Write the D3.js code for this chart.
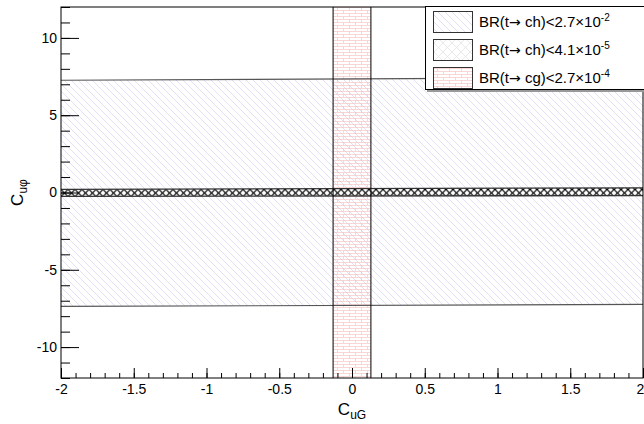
<!DOCTYPE html>
<html>
<head>
<meta charset="utf-8">
<script src="https://cdn.jsdelivr.net/npm/d3@7"></script>
<style>
  body { margin: 0; background: #fff; }
  svg { font-family: "Liberation Sans", Arial, Helvetica, sans-serif; }
</style>
</head>
<body>
<svg id="chart" width="644" height="424"></svg>
<script>

// axis ranges
var xDomain = [-2, 2];
var yDomain = [-12, 12];

// band edges, read at C_uG = -2 and C_uG = 2
var bandX = [-2, 2];
var wideUpper = [7.26, 7.44];
var wideLower = [-7.37, -7.24];
var narrowUpper = [0.2, 0.3];
var narrowLower = [-0.25, -0.2];

// C_uG limits of the vertical band
var cgBand = [-0.13, 0.13];

var xMajor = d3.range(-2, 2.01, 0.5);
var xMinor = d3.range(-2, 2.001, 0.1);
var yMajor = [-10, -5, 0, 5, 10];
var yMinor = d3.range(-12, 12.1, 1);

var legendHead = ["BR(t", "BR(t", "BR(t"];
var legendTail = [" ch)<2.7\u00d710", " ch)<4.1\u00d710", " cg)<2.7\u00d710"];
var legendExp = ["-2", "-5", "-4"];
var legendFill = ["url(#diag)", "url(#crossLeg)", "url(#brick)"];


var margin = {left: 61, right: 1, top: 7, bottom: 46};
var width = 644 - margin.left - margin.right;
var height = 424 - margin.top - margin.bottom;

var svg = d3.select("#chart");
var defs = svg.append("defs");

// diagonal hatch
var diag = defs.append("pattern")
	.attr("id", "diag")
	.attr("patternUnits", "userSpaceOnUse")
	.attr("width", 7).attr("height", 7);
diag.append("path")
	.attr("d", "M-1,-1L8,8M-1,6L1,8M6,-1L8,1")
	.attr("stroke", "#d2d2f6")
	.attr("stroke-width", 0.7);

// cross hatch (plot)
var cross = defs.append("pattern")
	.attr("id", "cross")
	.attr("patternUnits", "userSpaceOnUse")
	.attr("width", 7).attr("height", 7)
	.attr("y", 0.5);
cross.append("rect").attr("width", 7).attr("height", 7).attr("fill", "#fff");
cross.append("path")
	.attr("d", "M0,0L7,7M7,0L0,7")
	.attr("stroke", "#000")
	.attr("stroke-width", 1.2);

// cross hatch (legend)
var crossLeg = defs.append("pattern")
	.attr("id", "crossLeg")
	.attr("patternUnits", "userSpaceOnUse")
	.attr("width", 9).attr("height", 9);
crossLeg.append("rect").attr("width", 9).attr("height", 9).attr("fill", "#fff");
crossLeg.append("path")
	.attr("d", "M0,0L9,9M9,0L0,9")
	.attr("stroke", "#dadada")
	.attr("stroke-width", 0.6);

// brick
var brick = defs.append("pattern")
	.attr("id", "brick")
	.attr("patternUnits", "userSpaceOnUse")
	.attr("width", 12).attr("height", 6);
brick.append("path")
	.attr("d", "M0,0.5H12M0,3.5H12M0.5,0.5V3.5M6.5,3.5V6.5")
	.attr("stroke", "#f5bcbc")
	.attr("stroke-width", 0.6)
	.attr("fill", "none");

var g = svg.append("g")
	.attr("transform", "translate(" + margin.left + "," + margin.top + ")");

var x = d3.scaleLinear().domain(xDomain).range([0, width]);
var y = d3.scaleLinear().domain(yDomain).range([height, 0]);

var area = d3.area()
	.x(function(d) { return x(d.x); })
	.y0(function(d) { return y(d.lo); })
	.y1(function(d) { return y(d.hi); });

var wide = bandX.map(function(v, i) { return {x: v, lo: wideLower[i], hi: wideUpper[i]}; });
var narrow = bandX.map(function(v, i) { return {x: v, lo: narrowLower[i], hi: narrowUpper[i]}; });

g.append("path")
	.datum(wide)
	.attr("d", area)
	.attr("fill", "url(#diag)");

g.append("rect")
	.attr("x", x(cgBand[0]))
	.attr("width", x(cgBand[1]) - x(cgBand[0]))
	.attr("y", 0)
	.attr("height", height)
	.attr("fill", "url(#brick)");

g.append("path")
	.datum(narrow)
	.attr("d", area)
	.attr("fill", "url(#cross)");

var line = d3.line()
	.x(function(d) { return x(d[0]); })
	.y(function(d) { return y(d[1]); });

[wideUpper, wideLower].forEach(function(edge) {
	g.append("path")
		.datum(bandX.map(function(v, i) { return [v, edge[i]]; }))
		.attr("d", line)
		.attr("fill", "none")
		.attr("stroke", "#555")
		.attr("stroke-width", 1.2);
});

[narrowUpper, narrowLower].forEach(function(edge) {
	g.append("path")
		.datum(bandX.map(function(v, i) { return [v, edge[i]]; }))
		.attr("d", line)
		.attr("fill", "none")
		.attr("stroke", "#333")
		.attr("stroke-width", 1.3);
});

cgBand.forEach(function(v) {
	g.append("line")
		.attr("x1", x(v)).attr("x2", x(v))
		.attr("y1", 0).attr("y2", height)
		.attr("stroke", "#000");
});

// axes
var hyphen = function(d) { return String(+(+d).toFixed(1)); };

function styleAxis(sel) {
	sel.select(".domain").remove();
	sel.selectAll("line").attr("stroke", "#000");
	sel.selectAll("text").attr("fill", "#000").style("font-size", "14px")
		.style("font-family", "'Liberation Sans', Arial, sans-serif");
}

g.append("g")
	.call(d3.axisLeft(y).tickValues(yMinor).tickSize(-9).tickFormat(""))
	.call(styleAxis);
g.append("g")
	.call(d3.axisLeft(y).tickValues(yMajor).tickSize(-18).tickPadding(4).tickFormat(hyphen))
	.call(styleAxis);

g.append("g")
	.attr("transform", "translate(0," + height + ")")
	.call(d3.axisBottom(x).tickValues(xMinor).tickSize(-5).tickFormat(""))
	.call(styleAxis);
var xAxis = g.append("g")
	.attr("transform", "translate(0," + height + ")")
	.call(d3.axisBottom(x).tickValues(xMajor).tickSize(-10).tickPadding(6).tickFormat(hyphen))
	.call(styleAxis);
xAxis.selectAll(".tick:last-of-type text").attr("dx", -3);

g.append("rect")
	.attr("width", width).attr("height", height)
	.attr("fill", "none")
	.attr("stroke", "#000");

// axis titles
var xt = svg.append("text")
	.attr("x", margin.left + width / 2)
	.attr("y", 415)
	.attr("text-anchor", "middle")
	.style("font-size", "17px");
xt.append("tspan").text("C");
xt.append("tspan").attr("dy", 4).style("font-size", "12px").text("uG");

var yt = svg.append("text")
	.attr("transform", "translate(23," + (margin.top + height / 2) + ") rotate(-90)")
	.attr("text-anchor", "middle")
	.style("font-size", "17px");
yt.append("tspan").text("C");
yt.append("tspan").attr("dy", 4).style("font-size", "12px").text("u\u03c6");

// legend
var leg = svg.append("g").attr("transform", "translate(425,6)");
leg.append("rect")
	.attr("x", 2).attr("y", 2)
	.attr("width", 240).attr("height", 84)
	.attr("fill", "#999");
leg.append("rect")
	.attr("x", 0.5).attr("y", 0.5)
	.attr("width", 240).attr("height", 83)
	.attr("fill", "#fff")
	.attr("stroke", "#000");

var entry = leg.selectAll(".entry")
	.data(legendHead).enter()
	.append("g")
	.attr("class", "entry")
	.attr("transform", function(d, i) { return "translate(0," + (i * 28) + ")"; });

entry.append("rect")
	.attr("x", 8.5).attr("y", 5.5)
	.attr("width", 39).attr("height", 21)
	.attr("fill", function(d, i) { return legendFill[i]; })
	.attr("stroke", "#333");

var lt = entry.append("text")
	.attr("x", 54)
	.attr("y", 21)
	.style("font-size", "15px");
lt.append("tspan").text(function(d) { return d; });
lt.append("tspan")
	.style("font-family", "'DejaVu Sans', sans-serif")
	.style("font-size", "14px")
	.text("\u2192");
lt.append("tspan").text(function(d, i) { return legendTail[i]; });
lt.append("tspan")
	.attr("dy", -6)
	.style("font-size", "10px")
	.text(function(d, i) { return legendExp[i]; });

</script>
</body>
</html>
